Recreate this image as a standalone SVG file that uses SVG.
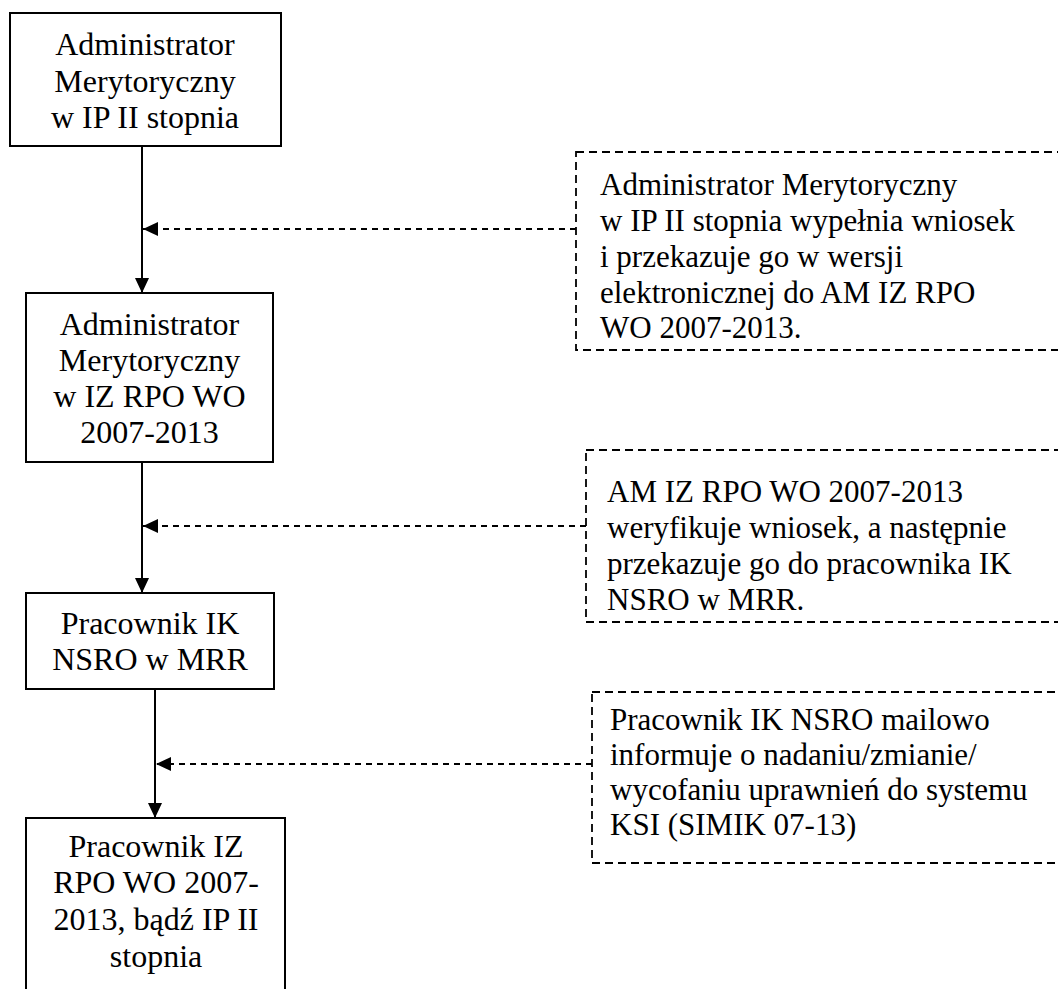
<svg xmlns="http://www.w3.org/2000/svg" width="1058" height="989" viewBox="0 0 1058 989">
<style>
.box{fill:#fff;stroke:#000;stroke-width:2}
.note{fill:none;stroke:#000;stroke-width:1.8;stroke-dasharray:8 5}
.t{font-family:"Liberation Serif","Times New Roman",serif;font-size:32px;fill:#000;text-anchor:middle}
.n{font-family:"Liberation Serif","Times New Roman",serif;font-size:31px;fill:#000}
.solid{stroke:#000;stroke-width:2;fill:none}
.dash{stroke:#000;stroke-width:1.8;fill:none;stroke-dasharray:6 5}
</style>
<defs>
<marker id="arr" viewBox="0 0 15 14" refX="15" refY="7" markerWidth="15" markerHeight="14" orient="auto" markerUnits="userSpaceOnUse">
<path d="M0,0 L15,7 L0,14 z" fill="#000"/>
</marker>
</defs>
<rect width="1058" height="989" fill="#fff"/>
<g id="connectors">
<line class="solid" x1="142" y1="146" x2="142" y2="293" marker-end="url(#arr)"/>
<line class="solid" x1="142" y1="462" x2="142" y2="593" marker-end="url(#arr)"/>
<line class="solid" x1="155" y1="689" x2="155" y2="818" marker-end="url(#arr)"/>
<line class="dash" x1="576" y1="229" x2="143" y2="229" marker-end="url(#arr)"/>
<line class="dash" x1="586" y1="526" x2="143" y2="526" marker-end="url(#arr)"/>
<line class="dash" x1="592" y1="764" x2="156" y2="764" marker-end="url(#arr)"/>
</g>
<g id="node1">
<rect class="box" x="10" y="13" width="271" height="133"/>
<text class="t" x="145" y="55">Administrator</text>
<text class="t" x="145" y="92">Merytoryczny</text>
<text class="t" x="145" y="128">w IP II stopnia</text>
</g>
<g id="node2">
<rect class="box" x="26" y="293" width="247" height="169"/>
<text class="t" x="149.5" y="335">Administrator</text>
<text class="t" x="149.5" y="371">Merytoryczny</text>
<text class="t" x="149.5" y="407">w IZ RPO WO</text>
<text class="t" x="149.5" y="443">2007-2013</text>
</g>
<g id="node3">
<rect class="box" x="26" y="593" width="248" height="96"/>
<text class="t" x="150" y="634">Pracownik IK</text>
<text class="t" x="150" y="670">NSRO w MRR</text>
</g>
<g id="node4">
<rect class="box" x="26" y="818" width="259" height="200"/>
<text class="t" x="156" y="857">Pracownik IZ</text>
<text class="t" x="156" y="893">RPO WO 2007-</text>
<text class="t" x="156" y="930">2013, bądź IP II</text>
<text class="t" x="156" y="967">stopnia</text>
</g>
<g id="note1">
<rect class="note" x="576" y="152" width="500" height="198"/>
<text class="n" x="600" y="195">Administrator Merytoryczny</text>
<text class="n" x="600" y="231">w IP II stopnia wypełnia wniosek</text>
<text class="n" x="600" y="267">i przekazuje go w wersji</text>
<text class="n" x="600" y="303">elektronicznej do AM IZ RPO</text>
<text class="n" x="600" y="338">WO 2007-2013.</text>
</g>
<g id="note2">
<rect class="note" x="586" y="450" width="490" height="172"/>
<text class="n" x="607" y="502">AM IZ RPO WO 2007-2013</text>
<text class="n" x="607" y="538">weryfikuje wniosek, a następnie</text>
<text class="n" x="607" y="574">przekazuje go do pracownika IK</text>
<text class="n" x="607" y="610">NSRO w MRR.</text>
</g>
<g id="note3">
<rect class="note" x="592" y="692" width="484" height="171"/>
<text class="n" x="610" y="730">Pracownik IK NSRO mailowo</text>
<text class="n" x="610" y="765">informuje o nadaniu/zmianie/</text>
<text class="n" x="610" y="800">wycofaniu uprawnień do systemu</text>
<text class="n" x="610" y="835">KSI (SIMIK 07-13)</text>
</g>
</svg>
